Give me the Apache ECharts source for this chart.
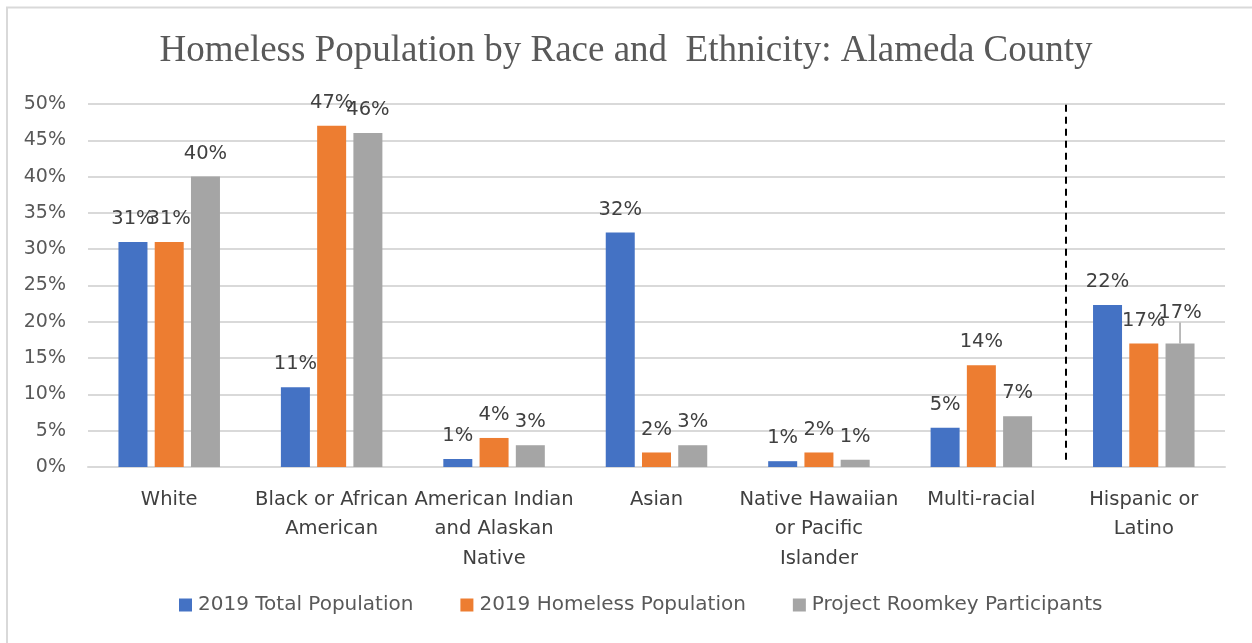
<!DOCTYPE html>
<html>
<head>
<meta charset="utf-8">
<script src="https://cdn.jsdelivr.net/npm/echarts@6/dist/echarts.min.js"></script>
<style>
html, body { margin: 0; padding: 0; background: #fff; }
#main { width: 1252px; height: 643px; }
</style>
</head>
<body>
<div id="main"></div>
<script>
// categories and values (percent)
var categories = ['White', 'Black or African\nAmerican', 'American Indian\nand Alaskan\nNative', 'Asian',
    'Native Hawaiian\nor Pacific\nIslander', 'Multi-racial', 'Hispanic or\nLatino'];
var totalPop = [31, 11, 1.1, 32.3, 0.8, 5.4, 22.3];
var homelessPop = [31, 47, 4, 2, 2, 14, 17];
var roomkey = [40, 46, 3, 3, 1, 7, 17];
var seriesNames = ['2019 Total Population', '2019 Homeless Population', 'Project Roomkey Participants'];
var yTicks = [0, 5, 10, 15, 20, 25, 30, 35, 40, 45, 50];
// the dashed separator sits between Multi-racial and Hispanic
var separatorAt = 6.02;
// index of the Hispanic column (its gray label was dragged up in the original)
var hispanicIdx = 6;

var textFont = '"DejaVu Sans", "Liberation Sans", sans-serif';
var colors = ['#4472C4', '#ED7D31', '#A5A5A5'];

function makeSeries(name, data, color) {
    return {
        name: name,
        type: 'bar',
        data: data,
        barWidth: 29,
        barGap: '25%',
        itemStyle: { color: color },
        label: {
            show: true,
            position: 'top',
            distance: 13,
            color: '#404040',
            fontSize: 19.5,
            fontFamily: textFont,
            formatter: function (p) { return Math.round(p.value) + '%'; }
        }
    };
}

var roomkeySeries = makeSeries(seriesNames[2], roomkey.map(function (v, i) {
    return i === hispanicIdx ? { value: v, labelLine: { show: true } } : v;
}), colors[2]);
roomkeySeries.labelLayout = function (p) {
    if (p.dataIndex === hispanicIdx) return { dy: -8 };
};
roomkeySeries.labelLine = { show: false, lineStyle: { color: '#A5A5A5', width: 1.5 } };

var myChart = echarts.init(document.getElementById('main'));
var option = {
    backgroundColor: '#fff',
    color: colors,
    animation: false,
    title: {
        text: 'Homeless Population by Race and  Ethnicity: Alameda County',
        left: 'center',
        top: 28,
        textStyle: {
            fontFamily: '"Liberation Serif", "Times New Roman", serif',
            fontWeight: 'normal',
            fontSize: 37,
            color: '#595959'
        }
    },
    legend: {
        data: seriesNames,
        bottom: 23,
        left: 174,
        itemWidth: 13,
        itemHeight: 13,
        itemGap: 47,
        icon: 'rect',
        textStyle: { fontSize: 20, color: '#595959', fontFamily: textFont, padding: [0, 0, 0, 1] }
    },
    grid: { left: 88, right: 27, top: 104, bottom: 176 },
    xAxis: [{
        type: 'category',
        data: categories,
        axisTick: { show: false },
        axisLine: { lineStyle: { color: '#d9d9d9', width: 2 } },
        axisLabel: {
            interval: 0,
            margin: 18,
            lineHeight: 29.5,
            fontSize: 19.5,
            color: '#404040',
            fontFamily: textFont
        }
    }, {
        type: 'value',
        min: 0,
        max: categories.length,
        show: false
    }],
    yAxis: {
        type: 'value',
        min: yTicks[0],
        max: yTicks[yTicks.length - 1],
        interval: 5,
        axisLine: { show: false },
        axisTick: { show: false },
        axisLabel: {
            formatter: '{value}%',
            margin: 22,
            fontSize: 19,
            color: '#595959',
            fontFamily: textFont
        },
        splitLine: { lineStyle: { color: '#d9d9d9', width: 2 } }
    },
    graphic: [{
        type: 'polyline',
        shape: { points: [[7, 643], [7, 7.5], [1252, 7.5]] },
        style: { fill: 'none', stroke: '#d9d9d9', lineWidth: 2 },
        silent: true
    }],
    series: [
        makeSeries(seriesNames[0], totalPop, colors[0]),
        makeSeries(seriesNames[1], homelessPop, colors[1]),
        roomkeySeries,
        {
            type: 'scatter',
            xAxisIndex: 1,
            data: [],
            silent: true,
            markLine: {
                symbol: 'none',
                silent: true,
                label: { show: false },
                lineStyle: { color: '#000', type: [7, 5], width: 2 },
                data: [[{ coord: [separatorAt, 1] }, { coord: [separatorAt, 50] }]]
            }
        }
    ]
};
myChart.setOption(option);
</script>
</body>
</html>
